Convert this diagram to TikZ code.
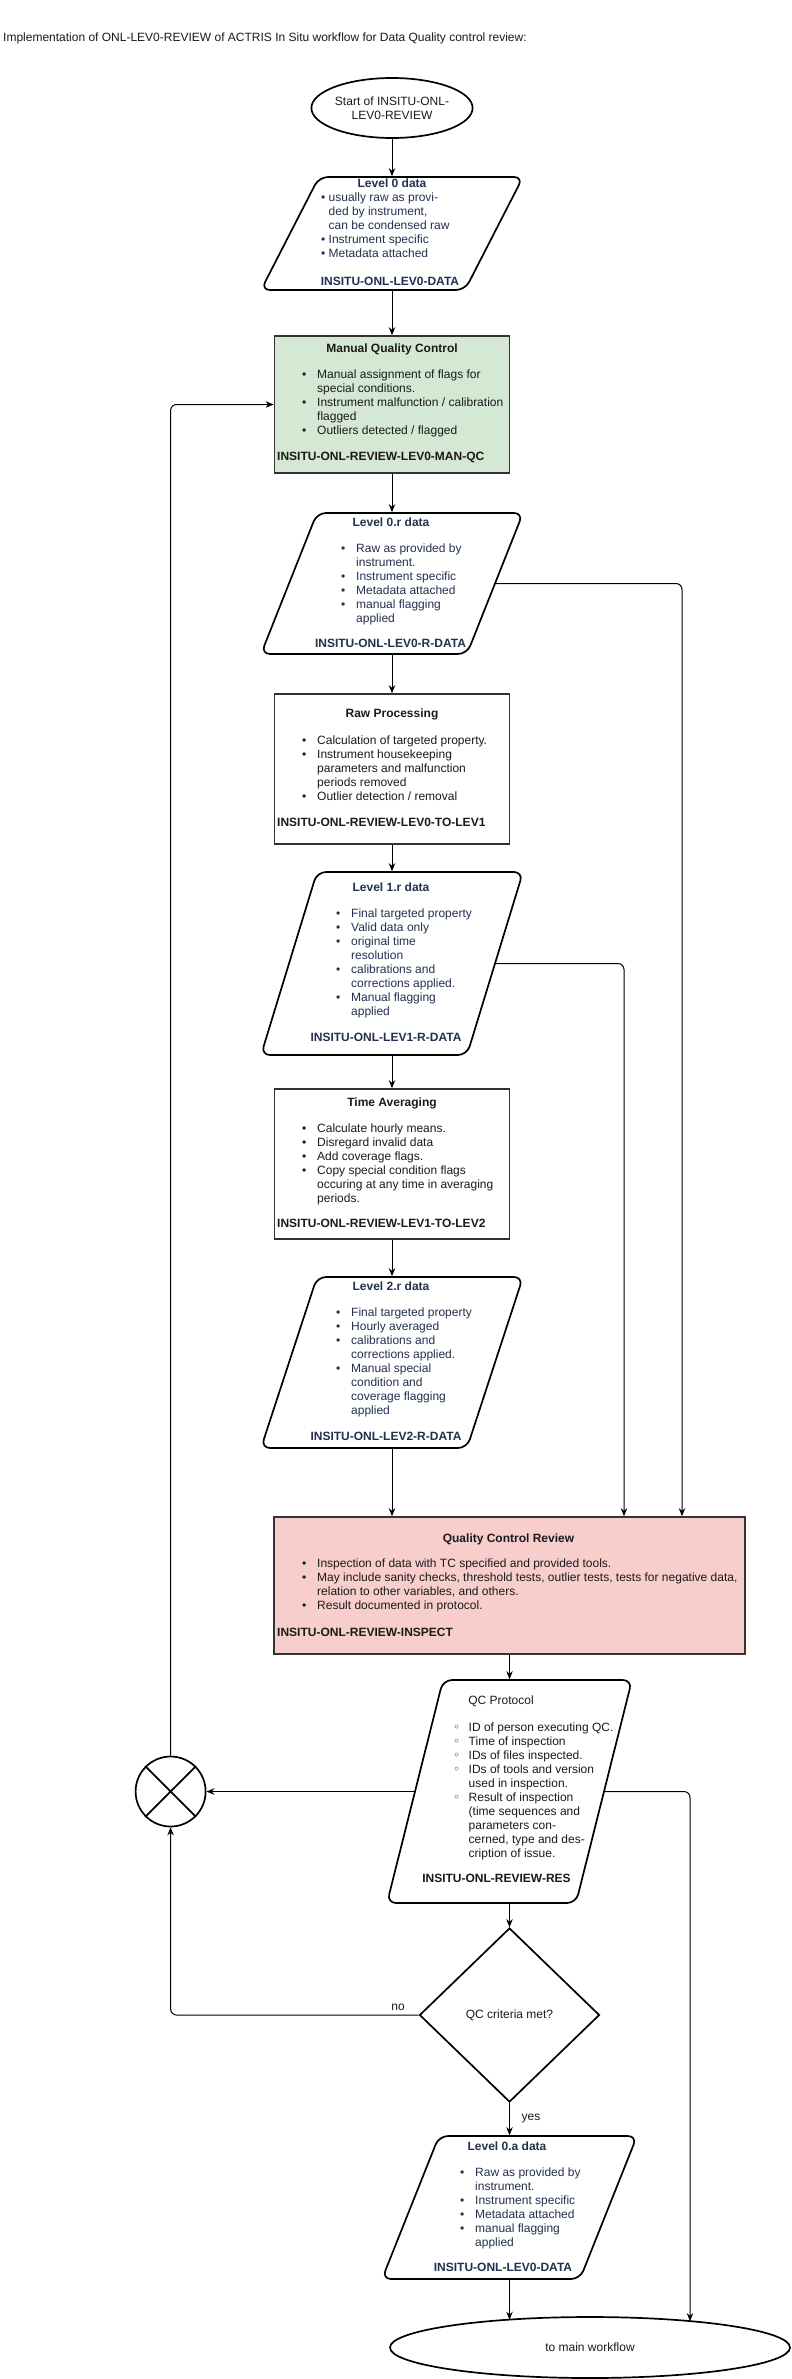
\documentclass[tikz,border=0pt]{standalone}
\usepackage{fontspec}
\setmainfont{Liberation Sans}
\newfontfamily\dvfont{DejaVu Sans}
\usetikzlibrary{arrows.meta,shapes.geometric,calc}
\definecolor{navy}{HTML}{23304F}
\definecolor{mqcfill}{HTML}{D5E8D4}
\definecolor{qcrfill}{HTML}{F8CECC}
\definecolor{ink}{HTML}{1A1A1A}
\definecolor{edgecol}{HTML}{333333}
\newcommand\fsz{\fontsize{12}{14}\selectfont}
\newcommand\bi[1]{\strut\makebox[15pt][l]{•}#1}
\newcommand\ci[1]{\strut\hspace*{15pt}#1}
\newcommand\oi[1]{\strut\makebox[15.5pt][l]{\dvfont\fontsize{12}{14}\selectfont ◦}#1}
\newcommand\oc[1]{\strut\hspace*{15.5pt}#1}
\newcommand\para[6]{%
  \node[parabox, minimum width={(#4)-(#2)}, minimum height={(#5)-(#3)}] (#1) at ({((#2)+(#4))/2},{((#3)+(#5))/2}) {};
  \draw[parashape] ({(#2)+(#6)},#3) -- (#4,#3) -- ({(#4)-(#6)},#5) -- (#2,#5) -- cycle;
  \coordinate (#1-r) at ({(#4)-(#6)/2},{((#3)+(#5))/2});
  \coordinate (#1-l) at ({(#2)+(#6)/2},{((#3)+(#5))/2});
}
\tikzset{
  every node/.style={font=\fsz, inner sep=0pt, text=ink},
  shapeline/.style={draw=black, line width=1.7pt},
  procbox/.style={rectangle, draw=edgecol, line width=1.7pt, minimum width=235pt},
  parabox/.style={rectangle, outer sep=0.85pt},
  parashape/.style={draw=black, line width=1.7pt, rounded corners=9pt},
  conn/.style={draw=black, line width=1pt, -{Stealth[length=8pt,width=6.5pt]}},
  ptitle/.style={text=navy, font=\fsz\bfseries, anchor=base},
  plist/.style={text=navy, anchor=north west, align=left},
  pcode/.style={text=navy, font=\fsz\bfseries, anchor=base},
  btitle/.style={font=\fsz\bfseries, anchor=base},
  blist/.style={anchor=north west, align=left},
  bcode/.style={font=\fsz\bfseries, anchor=base west},
  lbl/.style={anchor=base},
}
\begin{document}
\begin{tikzpicture}[x=1pt,y=-1pt]
\useasboundingbox (0,0) rectangle (792,2379);
\fill[white] (0,0) rectangle (792,2379);

\node[anchor=west] (title) at (3,38) {Implementation of ONL-LEV0-REVIEW of ACTRIS In Situ workflow for Data Quality control review:};

\node[ellipse, shapeline, minimum width=142pt, minimum height=60pt, align=center] (start) at (392,108) {Start of INSITU-ONL-\\LEV0-REVIEW};

% Level 0 data
\para{lv0}{261}{177}{523}{290}{58}
\node[ptitle] (lv0-t) at (392,187) {Level 0 data};
\node[plist] (lv0-b) at (321,191.2) {\strut• usually raw as provi-\\\strut\hspace*{7.5pt}ded by instrument,\\\strut\hspace*{7.5pt}can be condensed raw\\\strut• Instrument specific\\\strut• Metadata attached};
\node[pcode] (lv0-c) at (390,285) {INSITU-ONL-LEV0-DATA};

% Manual QC
\node[procbox, fill=mqcfill, minimum height=137pt] (mqc) at (392,404.5) {};
\node[btitle] (mqc-t) at (392,352) {Manual Quality Control};
\node[blist] (mqc-b) at (302,368.2) {\bi{Manual assignment of flags for}\\\ci{special conditions.}\\\bi{Instrument malfunction / calibration}\\\ci{flagged}\\\bi{Outliers detected / flagged}};
\node[bcode] (mqc-c) at (277,460) {INSITU-ONL-REVIEW-LEV0-MAN-QC};

% Level 0.r
\para{lv0r}{261}{513}{523}{654}{56}
\node[ptitle] (lv0r-t) at (391,526) {Level 0.r data};
\node[plist] (lv0r-b) at (341,542.2) {\bi{Raw as provided by}\\\ci{instrument.}\\\bi{Instrument specific}\\\bi{Metadata attached}\\\bi{manual flagging}\\\ci{applied}};
\node[pcode] (lv0r-c) at (390.5,647) {INSITU-ONL-LEV0-R-DATA};

% Raw processing
\node[procbox, minimum height=150pt] (rp) at (392,769) {};
\node[btitle] (rp-t) at (392,717) {Raw Processing};
\node[blist] (rp-b) at (302,734.2) {\bi{Calculation of targeted property.}\\\bi{Instrument housekeeping}\\\ci{parameters and malfunction}\\\ci{periods removed}\\\bi{Outlier detection / removal}};
\node[bcode] (rp-c) at (277,826) {INSITU-ONL-REVIEW-LEV0-TO-LEV1};

% Level 1.r
\para{lv1r}{261}{872}{523}{1055}{56}
\node[ptitle] (lv1r-t) at (391,891) {Level 1.r data};
\node[plist] (lv1r-b) at (336,907.2) {\bi{Final targeted property}\\\bi{Valid data only}\\\bi{original time}\\\ci{resolution}\\\bi{calibrations and}\\\ci{corrections applied.}\\\bi{Manual flagging}\\\ci{applied}};
\node[pcode] (lv1r-c) at (386,1041) {INSITU-ONL-LEV1-R-DATA};

% Time averaging
\node[procbox, minimum height=150pt] (ta) at (392,1164) {};
\node[btitle] (ta-t) at (392,1106) {Time Averaging};
\node[blist] (ta-b) at (302,1122.2) {\bi{Calculate hourly means.}\\\bi{Disregard invalid data}\\\bi{Add coverage flags.}\\\bi{Copy special condition flags}\\\ci{occuring at any time in averaging}\\\ci{periods.}};
\node[bcode] (ta-c) at (277,1227) {INSITU-ONL-REVIEW-LEV1-TO-LEV2};

% Level 2.r
\para{lv2r}{261}{1277}{523}{1448}{56}
\node[ptitle] (lv2r-t) at (391,1290) {Level 2.r data};
\node[plist] (lv2r-b) at (336,1306.2) {\bi{Final targeted property}\\\bi{Hourly averaged}\\\bi{calibrations and}\\\ci{corrections applied.}\\\bi{Manual special}\\\ci{condition and}\\\ci{coverage flagging}\\\ci{applied}};
\node[pcode] (lv2r-c) at (386,1440) {INSITU-ONL-LEV2-R-DATA};

% Quality control review
\node[rectangle, draw=edgecol, line width=1.7pt, fill=qcrfill, minimum width=471pt, minimum height=137pt] (qcr) at (509.5,1585.5) {};
\node[btitle] (qcr-t) at (508.5,1542) {Quality Control Review};
\node[blist] (qcr-b) at (302,1557.2) {\bi{Inspection of data with TC specified and provided tools.}\\\bi{May include sanity checks, threshold tests, outlier tests, tests for negative data,}\\\ci{relation to other variables, and others.}\\\bi{Result documented in protocol.}};
\node[bcode] (qcr-c) at (277,1636) {INSITU-ONL-REVIEW-INSPECT};

% QC protocol
\para{qcp}{387}{1680}{632}{1903}{56}
\node[lbl] (qcp-t) at (501,1704) {QC Protocol};
\node[blist] (qcp-b) at (453,1721.2) {\oi{ID of person executing QC.}\\\oi{Time of inspection}\\\oi{IDs of files inspected.}\\\oi{IDs of tools and version}\\\oc{used in inspection.}\\\oi{Result of inspection}\\\oc{(time sequences and}\\\oc{parameters con-}\\\oc{cerned, type and des-}\\\oc{cription of issue.}};
\node[btitle] (qcp-c) at (496.5,1882) {INSITU-ONL-REVIEW-RES};

% junction
\node[circle, shapeline, minimum size=70pt] (xc) at (170.6,1791.5) {};
\draw[line width=1.7pt] (xc.45) -- (xc.225) (xc.135) -- (xc.315);

% decision
\node[diamond, shapeline, minimum width=180pt, minimum height=174pt] (dia) at (509.5,2015) {QC criteria met?};

% Level 0.a
\para{lv0a}{382}{2136}{637}{2279}{57}
\node[ptitle] (lv0a-t) at (507,2150) {Level 0.a data};
\node[plist] (lv0a-b) at (460,2166.2) {\bi{Raw as provided by}\\\ci{instrument.}\\\bi{Instrument specific}\\\bi{Metadata attached}\\\bi{manual flagging}\\\ci{applied}};
\node[pcode] (lv0a-c) at (503,2271) {INSITU-ONL-LEV0-DATA};

% end
\node[ellipse, shapeline, minimum width=400pt, minimum height=61pt] (endn) at (590,2347.5) {to main workflow};
\coordinate (e1) at (509.5,2319.7);
\coordinate (e2) at (690,2321.1);
\coordinate (rA) at (682,0);
\coordinate (rB) at (624,0);
\coordinate (rC) at (690,0);

% connectors
\draw[conn] (start) -- (lv0);
\draw[conn] (lv0) -- (mqc);
\draw[conn] (mqc) -- (lv0r);
\draw[conn] (lv0r) -- (rp);
\draw[conn] (rp) -- (lv1r);
\draw[conn] (lv1r) -- (ta);
\draw[conn] (ta) -- (lv2r);
\draw[conn] (lv2r.south) -- (lv2r.south |- qcr.north);
\draw[conn, rounded corners=6pt] (lv0r-r) -| (rA |- qcr.north);
\draw[conn, rounded corners=6pt] (lv1r-r) -| (rB |- qcr.north);
\draw[conn] (qcr.south -| qcp.north) -- (qcp.north);
\draw[conn] (qcp-l) -- (xc.east);
\draw[conn, rounded corners=6pt] (xc.north) |- (mqc.west);
\draw[conn] (qcp.south) -- (dia.north);
\draw[conn, rounded corners=6pt] (dia.west) -| (xc.south);
\draw[conn] (dia.south) -- (dia.south |- lv0a.north);
\draw[conn] (lv0a.south) -- (e1);
\draw[conn, rounded corners=6pt] (qcp-r) -| (e2);
\node[lbl] (nolbl) at (398,2010) {no};
\node[lbl] (yeslbl) at (531,2120) {yes};
\end{tikzpicture}
\end{document}
